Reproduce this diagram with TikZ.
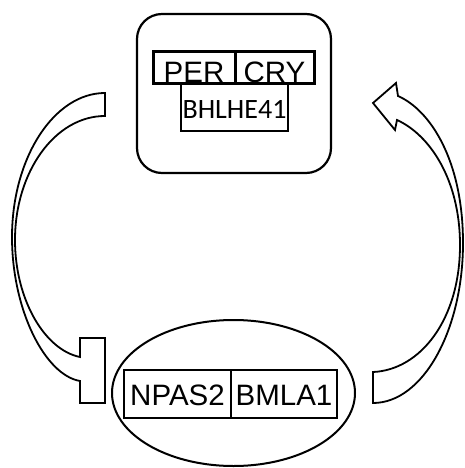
\documentclass[tikz,border=0pt]{standalone}
\usepackage{fontspec}
\usepackage{tikz}
\usetikzlibrary{shapes.geometric}
\setmainfont{Liberation Sans}
\newfontfamily\calib{Carlito}

\begin{document}
\begin{tikzpicture}[x=1pt,y=-1pt,
  gene/.style={draw,line width=2.5pt,inner sep=0pt,font=\fontsize{29.5}{31}\selectfont},
  blockarrow/.style={draw,line width=1.8pt,fill=white,line join=miter}]
\useasboundingbox (0,0) rectangle (464,468);
\node[draw,line width=2.2pt,rounded corners=25pt,minimum width=194pt,minimum height=159pt] (repr) at (234,93.5) {};
\node[draw,line width=2pt,ellipse,minimum width=243pt,minimum height=146pt] (activ) at (233.5,393) {};
\node[gene,line width=1.2pt,minimum width=107pt,text height=35pt,text depth=12pt,font=\calib\fontsize{28}{29}\selectfont] (bhlhe) at (234.5,107.5) {BHLHE41};
\node[gene,line width=3pt,minimum width=82pt,text height=31pt,text depth=1pt] (per) at (194,68) {PER};
\node[gene,line width=3pt,minimum width=79pt,text height=31pt,text depth=1pt] (cry) at (274.5,68) {CRY};
\node[gene,minimum width=107pt,text height=35pt,text depth=13pt] (npas) at (177.5,394) {NPAS2};
\node[gene,minimum width=106pt,text height=35pt,text depth=13pt] (bmla) at (284,394) {BMLA1};
% inhibition
\draw[blockarrow] (105,93) .. controls (54,93) and (12,158) .. (12,237)
  .. controls (12,310) and (45,375) .. (80,381) -- (80,403) -- (105,403) -- (105,338) -- (80,338) -- (80,357)
  .. controls (45,350) and (15,300) .. (15,240) .. controls (15,172) and (55,116) .. (105,116) -- cycle;
% activation
\draw[blockarrow] (373,403) .. controls (423,403) and (463,330) .. (463,243)
  .. controls (463,160) and (430,110) .. (398,96) -- (396,83) -- (373,103) -- (395,130) -- (397,120)
  .. controls (430,135) and (460,180) .. (460,245) .. controls (460,320) and (420,370) .. (373,372) -- cycle;
\end{tikzpicture}
\end{document}
